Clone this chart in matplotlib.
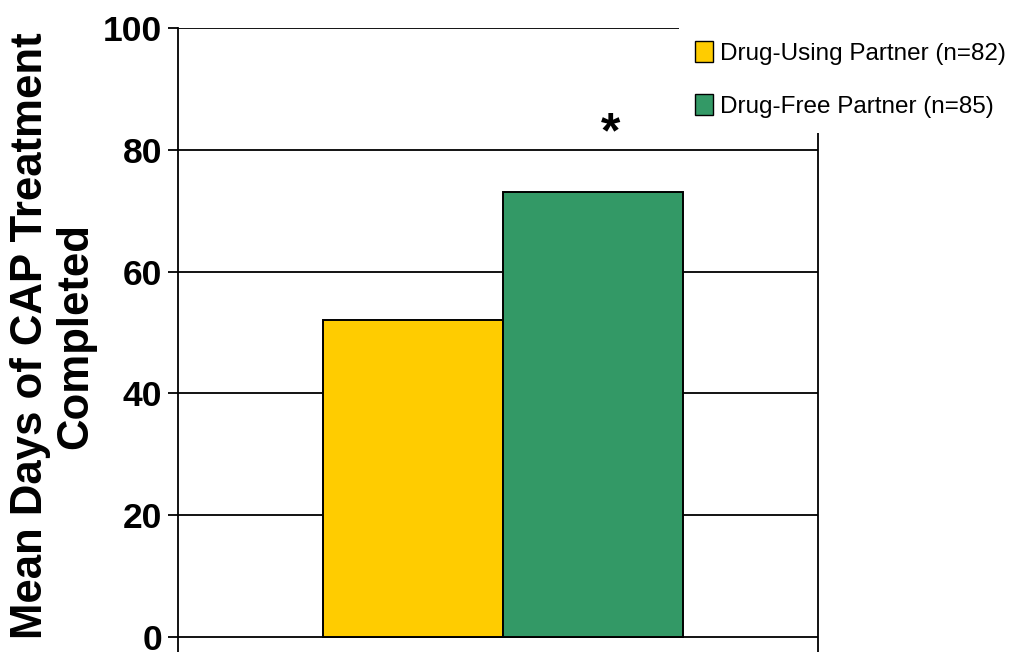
import matplotlib
matplotlib.use("Agg")
import matplotlib.pyplot as plt
from matplotlib.patches import Patch

# Data
groups = ["Drug-Using Partner (n=82)", "Drug-Free Partner (n=85)"]
mean_days = [52, 73]
bar_colors = ["#FFCC00", "#339966"]
y_ticks = [0, 20, 40, 60, 80, 100]
y_label = "Mean Days of CAP Treatment\nCompleted"
sig_marker = "*"

plt.rcParams["font.family"] = ["Liberation Sans", "DejaVu Sans"]

W, H = 1009, 652
fig = plt.figure(figsize=(W / 100, H / 100), dpi=100)
ax = fig.add_axes([178 / W, 0, 640 / W, (H - 28) / H])

# bars side by side, each one unit wide
x_pos = [-0.5, 0.5]
ax.bar(x_pos, mean_days, width=1.0, color=bar_colors, edgecolor="black",
       linewidth=1.4, zorder=3)

ax.set_xlim(-1.806, 1.75)
ax.set_ylim(-2.46, 100)
ax.set_yticks(y_ticks)
ax.set_yticklabels([str(t) for t in y_ticks], fontweight="bold", fontsize=25.5)
ax.set_xticks([])
ax.tick_params(axis="y", length=7.2, width=1.3, pad=4, color="black")
ax.grid(axis="y", color="black", linewidth=1.3, zorder=1)
for s in ["left", "right"]:
    ax.spines[s].set_linewidth(1.3)
    ax.spines[s].set_color("black")
ax.spines["top"].set_visible(False)
ax.spines["bottom"].set_visible(False)

# significance marker above the drug-free bar
ax.text(0.6, 82.5, sig_marker, ha="center", va="center", fontsize=36,
        fontweight="bold", zorder=4)

fig.text(53 / W, 1 - 336 / H, y_label, rotation=90, ha="center", va="center",
         multialignment="center", fontsize=31.5, fontweight="bold",
         linespacing=1.15)

handles = [Patch(facecolor=c, edgecolor="black", linewidth=1.0) for c in bar_colors]
leg = fig.legend(handles, groups, loc="upper left",
                 bbox_to_anchor=(679 / W, 1 - 25 / H),
                 prop={"size": 17.5},
                 frameon=True, fancybox=False, edgecolor="none",
                 facecolor="white", framealpha=1.0,
                 handlelength=0.75, handleheight=0.95, handletextpad=0.3,
                 labelspacing=1.2, borderpad=0.65, borderaxespad=0)
leg.set_zorder(10)

fig.savefig("out.png", dpi=100)
